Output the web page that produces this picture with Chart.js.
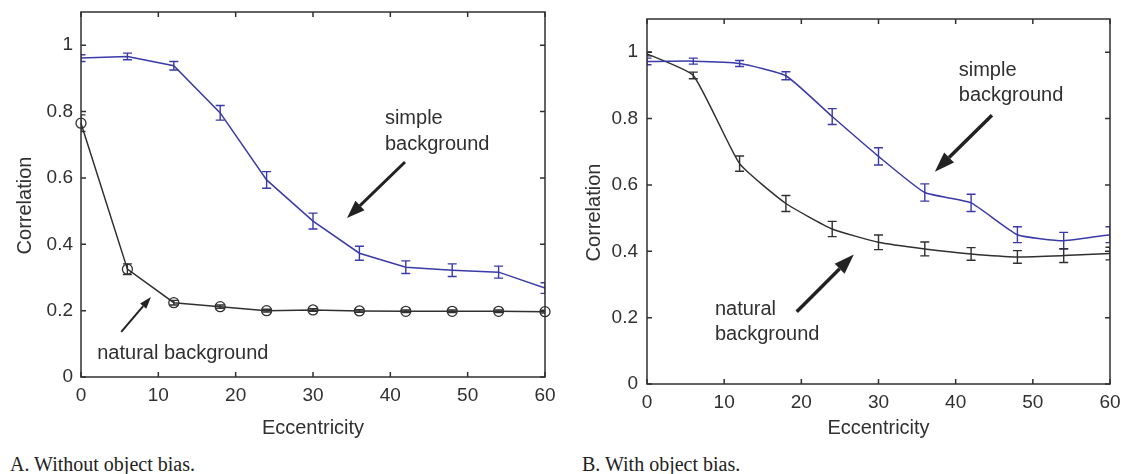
<!DOCTYPE html>
<html>
<head>
<meta charset="utf-8">
<script src="https://cdn.jsdelivr.net/npm/chart.js@4/dist/chart.umd.min.js"></script>
<style>
  body { margin: 0; background: #fff; width: 1121px; height: 474px; overflow: hidden; position: relative; }
  canvas { position: absolute; top: 0; }
  #chartA { left: 0; }
  #chartB { left: 560px; }
  .cap { position: absolute; top: 453px; font: 20px/23px "Liberation Serif", "Times New Roman", serif; color: #222; white-space: nowrap; }
</style>
</head>
<body>
<canvas id="chartA" width="560" height="445"></canvas>
<canvas id="chartB" width="561" height="445"></canvas>
<div class="cap" style="left:10px">A. Without object bias.</div>
<div class="cap" style="left:582px">B. With object bias.</div>

<script>
// values
const eccentricity = [0, 6, 12, 18, 24, 30, 36, 42, 48, 54, 60];
const xTicks = [0, 10, 20, 30, 40, 50, 60];
const yTicks = [0, 0.2, 0.4, 0.6, 0.8, 1];

// panel A - without object bias
const simpleNoBias     = [0.961, 0.966, 0.938, 0.796, 0.594, 0.470, 0.373, 0.331, 0.322, 0.316, 0.268];
const simpleNoBiasErr  = [0.010, 0.010, 0.013, 0.022, 0.025, 0.024, 0.021, 0.019, 0.019, 0.018, 0.016];
const naturalNoBias    = [0.765, 0.325, 0.224, 0.212, 0.200, 0.202, 0.199, 0.198, 0.198, 0.198, 0.197];
const naturalNoBiasErr = [0.025, 0.016, 0.007, 0.005, 0.004, 0.004, 0.004, 0.004, 0.004, 0.004, 0.004];

// panel B - with object bias
const simpleBias     = [0.972, 0.973, 0.966, 0.929, 0.806, 0.686, 0.577, 0.546, 0.450, 0.432, 0.450];
const simpleBiasErr  = [0.010, 0.009, 0.009, 0.012, 0.024, 0.026, 0.026, 0.026, 0.024, 0.025, 0.024];
const naturalBias    = [0.995, 0.930, 0.664, 0.544, 0.467, 0.427, 0.407, 0.392, 0.383, 0.387, 0.393];
const naturalBiasErr = [0.006, 0.010, 0.023, 0.024, 0.023, 0.022, 0.021, 0.019, 0.019, 0.021, 0.019];

const BLUE = 'rgb(58,58,168)';
const DARK = '#303030';
const SANS = '"Liberation Sans", Arial, Helvetica, sans-serif';

function toPoints(ys) {
    return eccentricity.map((x, i) => ({ x: x, y: ys[i] }));
}

// error bars with small caps, clipped to the plot box
const errorBars = {
    id: 'errorBars',
    afterDatasetsDraw(chart) {
        const { ctx, chartArea: a, scales: { x, y } } = chart;
        ctx.save();
        ctx.beginPath();
        ctx.rect(a.left, a.top, a.width, a.height);
        ctx.clip();
        chart.data.datasets.forEach(ds => {
            if (!ds.errors) return;
            ctx.strokeStyle = ds.borderColor;
            ctx.lineWidth = 1.4;
            ds.data.forEach((p, i) => {
                const px = x.getPixelForValue(p.x);
                const lo = y.getPixelForValue(p.y - ds.errors[i]);
                const hi = y.getPixelForValue(p.y + ds.errors[i]);
                ctx.beginPath();
                ctx.moveTo(px, lo); ctx.lineTo(px, hi);
                ctx.moveTo(px - 4.5, lo); ctx.lineTo(px + 4.5, lo);
                ctx.moveTo(px - 4.5, hi); ctx.lineTo(px + 4.5, hi);
                ctx.stroke();
            });
        });
        ctx.restore();
    }
};

function drawArrow(ctx, x0, y0, x1, y1, lw, headLen, headW) {
    const ang = Math.atan2(y1 - y0, x1 - x0);
    const bx = x1 - headLen * Math.cos(ang), by = y1 - headLen * Math.sin(ang);
    ctx.lineWidth = lw;
    ctx.beginPath();
    ctx.moveTo(x0, y0);
    ctx.lineTo(bx, by);
    ctx.stroke();
    ctx.beginPath();
    ctx.moveTo(x1, y1);
    ctx.lineTo(bx + headW / 2 * Math.sin(ang), by - headW / 2 * Math.cos(ang));
    ctx.lineTo(bx - headW / 2 * Math.sin(ang), by + headW / 2 * Math.cos(ang));
    ctx.closePath();
    ctx.fill();
}

// matlab style box with inward ticks, y title and annotations
const matlabBox = {
    id: 'matlabBox',
    afterDraw(chart, args, opts) {
        const { ctx, chartArea: a, scales: { x, y } } = chart;
        ctx.save();
        ctx.strokeStyle = DARK;
        ctx.lineWidth = 1.5;
        ctx.strokeRect(a.left, a.top, a.width, a.height);
        ctx.beginPath();
        xTicks.forEach(v => {
            const px = x.getPixelForValue(v);
            ctx.moveTo(px, a.bottom); ctx.lineTo(px, a.bottom - 5);
            ctx.moveTo(px, a.top); ctx.lineTo(px, a.top + 5);
        });
        yTicks.forEach(v => {
            const py = y.getPixelForValue(v);
            ctx.moveTo(a.left, py); ctx.lineTo(a.left + 5, py);
            ctx.moveTo(a.right, py); ctx.lineTo(a.right - 5, py);
        });
        ctx.stroke();

        // y axis title
        ctx.fillStyle = DARK;
        ctx.font = '20px ' + SANS;
        ctx.textAlign = 'center';
        ctx.textBaseline = 'middle';
        ctx.save();
        ctx.translate(opts.titleX, (a.top + a.bottom) / 2 + 11);
        ctx.rotate(-Math.PI / 2);
        ctx.fillText('Correlation', 0, 0);
        ctx.restore();

        // annotations
        ctx.textAlign = 'left';
        opts.texts.forEach(t => {
            ctx.fillText(t.text, x.getPixelForValue(t.x), y.getPixelForValue(t.y));
        });
        ctx.strokeStyle = '#222';
        ctx.fillStyle = '#222';
        opts.arrows.forEach(ar => {
            drawArrow(ctx,
                x.getPixelForValue(ar.from[0]), y.getPixelForValue(ar.from[1]),
                x.getPixelForValue(ar.to[0]), y.getPixelForValue(ar.to[1]),
                ar.lw, ar.head[0], ar.head[1]);
        });
        ctx.restore();
    }
};

function makePanel(id, simple, simpleErr, natural, naturalErr, cfg) {
    const ctx = document.getElementById(id).getContext('2d');
    return new Chart(ctx, {
        type: 'line',
        data: {
            datasets: [{
                label: 'simple background',
                data: toPoints(simple),
                errors: simpleErr,
                borderColor: BLUE,
                borderWidth: 1.5,
                pointRadius: 0,
                tension: cfg.tension,
                fill: false
            }, {
                label: 'natural background',
                data: toPoints(natural),
                errors: naturalErr,
                borderColor: DARK,
                borderWidth: 1.5,
                pointRadius: cfg.markers ? 5 : 0,
                pointStyle: 'circle',
                pointBorderWidth: 1.3,
                pointBorderColor: DARK,
                pointBackgroundColor: 'rgba(0,0,0,0)',
                tension: cfg.tension,
                fill: false,
                clip: false
            }]
        },
        options: {
            responsive: false,
            animation: false,
            events: [],
            layout: { padding: cfg.padding },
            scales: {
                x: {
                    type: 'linear',
                    min: 0,
                    max: 60,
                    afterBuildTicks: s => { s.ticks = xTicks.map(v => ({ value: v })); },
                    afterFit: s => { s.height = cfg.xHeight; s.paddingLeft = 0; s.paddingRight = 0; },
                    grid: { display: false, drawTicks: false },
                    border: { display: false },
                    ticks: { color: DARK, font: { family: SANS, size: 19 }, padding: 7, maxRotation: 0 },
                    title: { display: true, text: 'Eccentricity', color: DARK, font: { family: SANS, size: 20 }, padding: { top: 0, bottom: 5 } }
                },
                y: {
                    min: 0,
                    max: 1.1,
                    afterBuildTicks: s => { s.ticks = yTicks.map(v => ({ value: v })); },
                    afterFit: s => { s.width = cfg.yWidth; s.paddingTop = 0; s.paddingBottom = 0; },
                    grid: { display: false, drawTicks: false },
                    border: { display: false },
                    ticks: {
                        color: DARK,
                        font: { family: SANS, size: 19 },
                        padding: cfg.yPad,
                        callback: v => String(+v.toFixed(1))
                    }
                }
            },
            plugins: {
                legend: { display: false },
                tooltip: { enabled: false },
                matlabBox: { titleX: cfg.titleX, texts: cfg.texts, arrows: cfg.arrows }
            }
        },
        plugins: [errorBars, matlabBox]
    });
}

makePanel('chartA', simpleNoBias, simpleNoBiasErr, naturalNoBias, naturalNoBiasErr, {
    tension: 0,
    markers: true,
    padding: { top: 12, right: 15, left: 0, bottom: 0 },
    xHeight: 68,
    yWidth: 81,
    yPad: 8,
    titleX: 25,
    texts: [
        { text: 'simple', x: 39.3, y: 0.78 },
        { text: 'background', x: 39.3, y: 0.70 },
        { text: 'natural background', x: 2.1, y: 0.072 }
    ],
    arrows: [
        { from: [41.9, 0.648], to: [34.4, 0.479], lw: 3, head: [18, 13] },
        { from: [5.2, 0.136], to: [9.05, 0.241], lw: 2, head: [12, 8] }
    ]
});

makePanel('chartB', simpleBias, simpleBiasErr, naturalBias, naturalBiasErr, {
    tension: 0.15,
    markers: false,
    padding: { top: 19, right: 11, left: 0, bottom: 0 },
    xHeight: 61,
    yWidth: 87,
    yPad: 9,
    titleX: 34,
    texts: [
        { text: 'simple', x: 40.4, y: 0.946 },
        { text: 'background', x: 40.4, y: 0.870 },
        { text: 'natural', x: 8.8, y: 0.224 },
        { text: 'background', x: 8.8, y: 0.148 }
    ],
    arrows: [
        { from: [44.7, 0.81], to: [37.3, 0.64], lw: 3.5, head: [20, 14] },
        { from: [19.4, 0.218], to: [26.8, 0.39], lw: 3.5, head: [20, 14] }
    ]
});
</script>
</body>
</html>
